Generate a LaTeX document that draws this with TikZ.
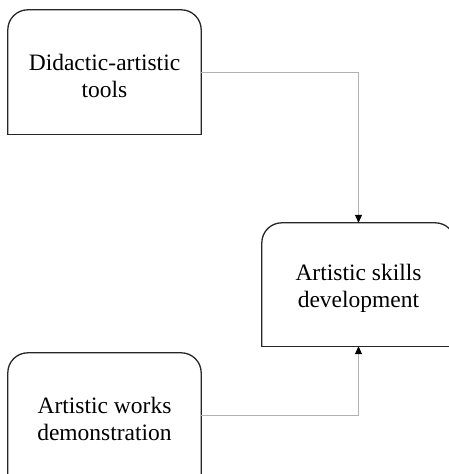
\documentclass[tikz,border=0pt]{standalone}
\usepackage{fontspec}
\setmainfont{Liberation Serif}
\usetikzlibrary{arrows.meta}

\begin{document}
\begin{tikzpicture}[x=1pt,y=-1pt,
	blok/.style={minimum width=193pt, minimum height=124pt, inner sep=0pt},
	tekst/.style={align=center, inner sep=0pt, font=\fontsize{23.5}{27}\selectfont},
	rand/.style={line width=1.3pt, draw=black!85, rounded corners=20pt},
	bodem/.style={line width=1.3pt, draw=black!85, line cap=rect},
	pijl/.style={draw=black!30, line width=1pt, -{Triangle[length=8pt,width=7pt,color=black]}}]

	\useasboundingbox (0,0) rectangle (448,474);

	% Boxes
	\node[blok] (tools) at (104.5,72) {};
	\node[blok, minimum height=123pt] (skills) at (358.5,284.5) {};
	\node[blok] (works) at (104.5,415) {};

	% Texts
	\node[tekst] (tools-txt) at ([yshift=-4pt]tools.center) {Didactic-artistic\\tools};
	\node[tekst] (skills-txt) at ([yshift=-4pt]skills.center) {Artistic skills\\development};
	\node[tekst] (works-txt) at ([yshift=-4pt]works.center) {Artistic works\\demonstration};

	% Outlines (rounded on top only)
	\draw[rand] (tools.south west) -- (tools.north west) -- (tools.north east) -- (tools.south east);
	\draw[bodem] (tools.south west) -- (tools.south east);
	\draw[rand] (skills.south west) -- (skills.north west) -- (skills.north east) -- (skills.south east);
	\draw[bodem] (skills.south west) -- (skills.south east);
	\draw[rand] (works.south west) -- (works.north west) -- (works.north east) -- (works.south east);
	\draw[bodem] (works.south west) -- (works.south east);

	% Connectors
	\draw[pijl] (tools.east) -| (skills.north);
	\draw[pijl] (works.east) -| (skills.south);

\end{tikzpicture}
\end{document}
